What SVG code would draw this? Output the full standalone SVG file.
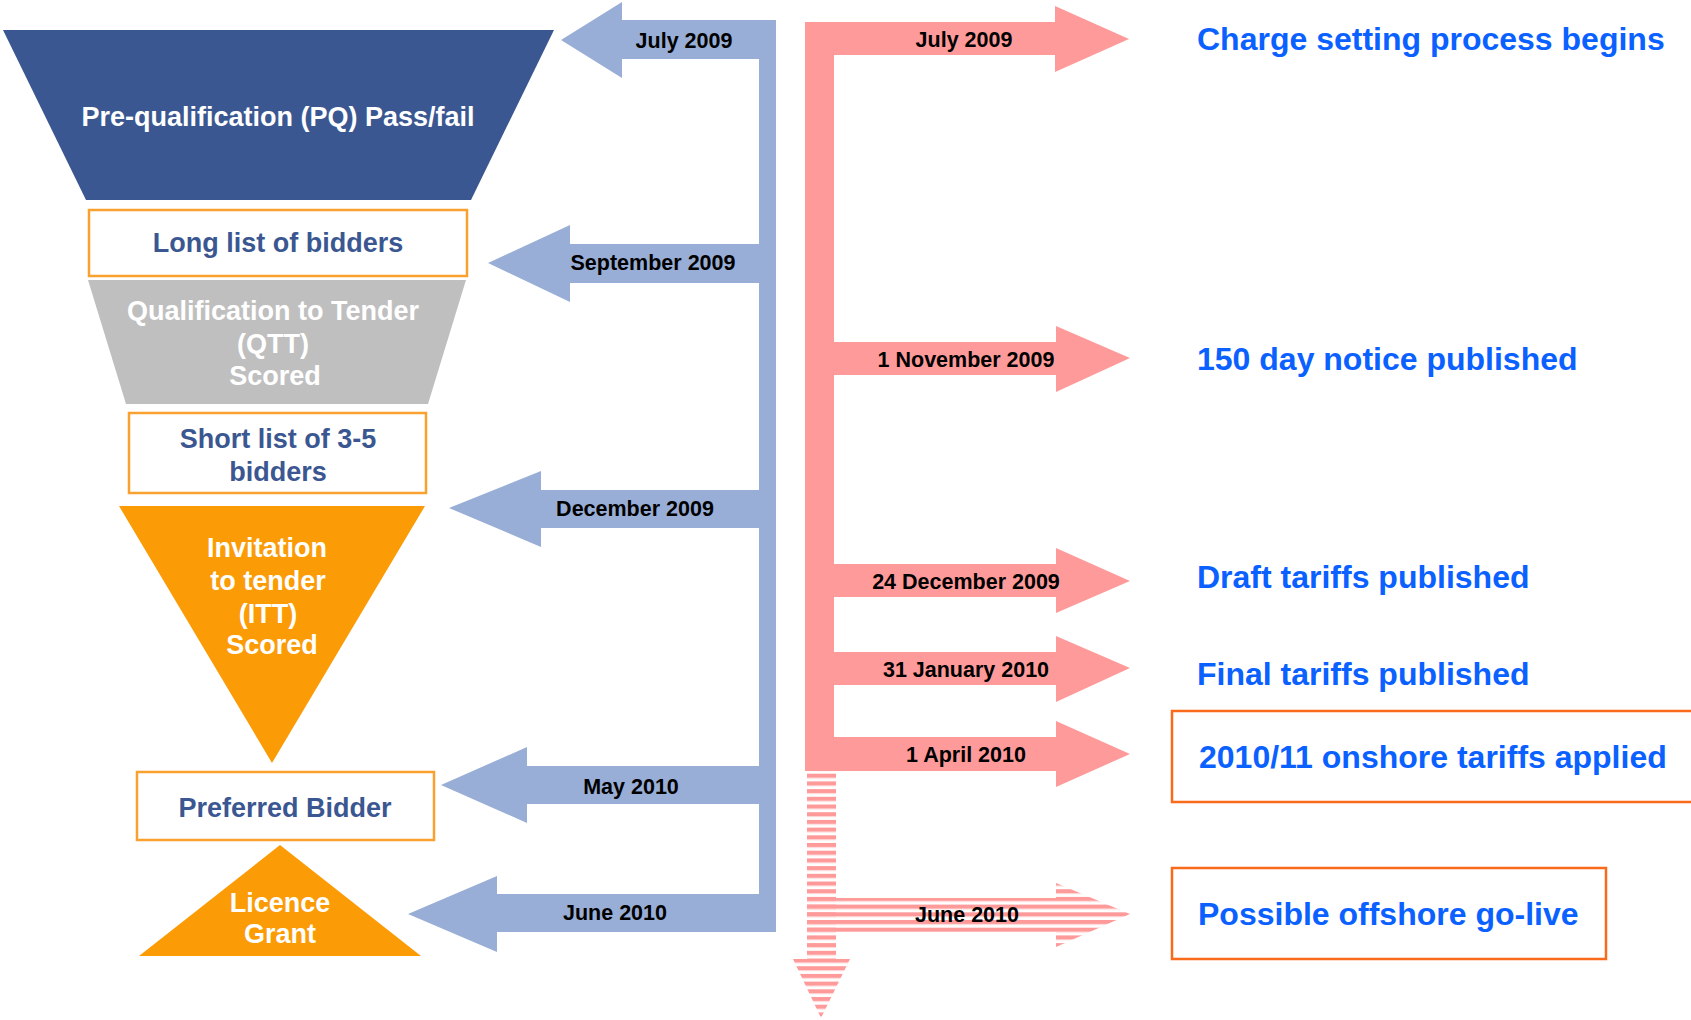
<svg xmlns="http://www.w3.org/2000/svg" width="1691" height="1020" viewBox="0 0 1691 1020">
<defs>
<pattern id="stripes" patternUnits="userSpaceOnUse" x="0" y="773.7" width="20" height="7.7">
<rect x="0" y="0" width="20" height="4.2" fill="#FF9A9A"/>
<rect x="0" y="4.2" width="20" height="0.8" fill="#FFD6D6"/>
</pattern>
<style>
.lt{font-family:"Liberation Sans",Arial,sans-serif;font-weight:bold;font-size:27px;text-anchor:middle}
.wt{fill:#FFFFFF}
.bt{fill:#3B5791}
.lbl{font-family:"Liberation Sans",Arial,sans-serif;font-weight:bold;font-size:21.5px;fill:#000000;text-anchor:middle}
.rt{font-family:"Liberation Sans",Arial,sans-serif;font-weight:bold;font-size:32px;fill:#0A61FF}
.ob{fill:#FFFFFF;stroke:#F9A12E;stroke-width:2.5}
.rb{fill:none;stroke:#F96A1B;stroke-width:2.5}
.blue{fill:#98AED6}
.pink{fill:#FF9A9A}
</style>
</defs>
<rect x="0" y="0" width="1691" height="1020" fill="#FFFFFF"/>

<g id="connectors">
  <g id="blue-arrows" class="blue">
    <rect x="759" y="20" width="17" height="912"/>
    <polygon points="776,20 622,20 622,2 561,40 622,78 622,59 776,59"/>
    <polygon points="776,244 570,244 570,225 488,263 570,302 570,283 776,283"/>
    <polygon points="776,490 541,490 541,471 449,508 541,547 541,528 776,528"/>
    <polygon points="776,766 527,766 527,747 441,785 527,823 527,804 776,804"/>
    <polygon points="776,894 497,894 497,876 408,914 497,952 497,932 776,932"/>
  </g>
  <text class="lbl" x="684" y="47.5">July 2009</text>
  <text class="lbl" x="653" y="270">September 2009</text>
  <text class="lbl" x="635" y="515.5">December 2009</text>
  <text class="lbl" x="631" y="794">May 2010</text>
  <text class="lbl" x="615" y="920">June 2010</text>

  <g id="pink-arrows" class="pink">
    <rect x="805" y="22" width="29" height="749"/>
    <polygon points="805,22 1055,22 1055,6 1129,39 1055,72 1055,55 805,55"/>
    <polygon points="805,342 1056,342 1056,326 1130,358 1056,392 1056,375 805,375"/>
    <polygon points="805,564 1056,564 1056,548 1130,581 1056,613 1056,597 805,597"/>
    <polygon points="805,652 1056,652 1056,636 1130,668 1056,702 1056,685 805,685"/>
    <polygon points="805,737 1056,737 1056,721 1130,754 1056,787 1056,771 805,771"/>
  </g>
  <g id="pink-striped" fill="url(#stripes)">
    <rect x="807" y="771" width="29" height="188"/>
    <polygon points="793,959 850,959 821,1018"/>
    <polygon points="807,898 1056,898 1056,883 1130,914 1056,947 1056,932 807,932"/>
  </g>
  <text class="lbl" x="964" y="47">July 2009</text>
  <text class="lbl" x="966" y="367">1 November 2009</text>
  <text class="lbl" x="966" y="589">24 December 2009</text>
  <text class="lbl" x="966" y="677">31 January 2010</text>
  <text class="lbl" x="966" y="762">1 April 2010</text>
  <text class="lbl" x="967" y="922">June 2010</text>
</g>

<g id="pq">
  <polygon points="3,30 554,30 471,200 86,200" fill="#3B5791"/>
  <text class="lt wt" x="278" y="126">Pre-qualification (PQ) Pass/fail</text>
</g>
<g id="long-list">
  <rect class="ob" x="89" y="210" width="378" height="66"/>
  <text class="lt bt" x="278" y="252">Long list of bidders</text>
</g>
<g id="qtt">
  <polygon points="88,280 466,280 428,404 126,404" fill="#BFBFBF"/>
  <text class="lt wt" x="273" y="320">Qualification to Tender</text>
  <text class="lt wt" x="273" y="353">(QTT)</text>
  <text class="lt wt" x="275" y="385">Scored</text>
</g>
<g id="short-list">
  <rect class="ob" x="129" y="413" width="297" height="80"/>
  <text class="lt bt" x="278" y="448">Short list of 3-5</text>
  <text class="lt bt" x="278" y="481">bidders</text>
</g>
<g id="itt">
  <polygon points="119,506 425,506 272,763" fill="#FB9B06"/>
  <text class="lt wt" x="267" y="557">Invitation</text>
  <text class="lt wt" x="268" y="590">to tender</text>
  <text class="lt wt" x="268" y="623">(ITT)</text>
  <text class="lt wt" x="272" y="654">Scored</text>
</g>
<g id="preferred">
  <rect class="ob" x="137" y="772" width="297" height="68"/>
  <text class="lt bt" x="285" y="817">Preferred Bidder</text>
</g>
<g id="licence">
  <polygon points="280,845 421,956 139,956" fill="#FB9B06"/>
  <text class="lt wt" x="280" y="912">Licence</text>
  <text class="lt wt" x="280" y="943">Grant</text>
</g>

<g id="charge-setting">
  <text class="rt" x="1197" y="49.5">Charge setting process begins</text>
</g>
<g id="notice">
  <text class="rt" x="1197" y="370">150 day notice published</text>
</g>
<g id="draft">
  <text class="rt" x="1197" y="588">Draft tariffs published</text>
</g>
<g id="final">
  <text class="rt" x="1197" y="685">Final tariffs published</text>
</g>
<g id="onshore">
  <rect class="rb" x="1172" y="711" width="540" height="91"/>
  <text class="rt" x="1199" y="768">2010/11 onshore tariffs applied</text>
</g>
<g id="offshore">
  <rect class="rb" x="1172" y="868" width="434" height="91"/>
  <text class="rt" x="1198" y="925">Possible offshore go-live</text>
</g>
</svg>
